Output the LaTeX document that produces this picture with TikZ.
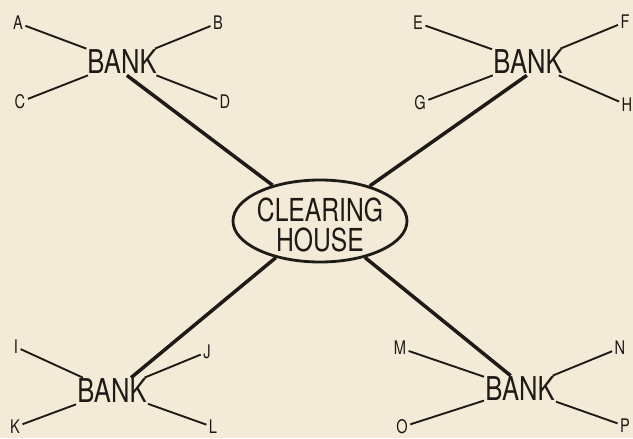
\documentclass[tikz,border=0pt]{standalone}
\usepackage{fontspec}
\newfontfamily\handfont[FakeStretch=0.78]{TeX Gyre Heros}
\usetikzlibrary{shapes.geometric}
\definecolor{paper}{HTML}{F3EBD7}
\definecolor{ink}{HTML}{1E1A16}
\begin{document}
\begin{tikzpicture}[x=0.03cm,y=-0.03cm,
  lbl/.style={font=\handfont\fontsize{16}{18}\selectfont,text=ink,inner sep=2pt},
  bank/.style={font=\handfont\fontsize{28}{30}\selectfont,text=ink,inner sep=1pt},
  house/.style={draw=ink,line width=2.4pt,ellipse,minimum width=5.22cm,minimum height=2.46cm,inner sep=0pt},
  housetext/.style={font=\handfont\fontsize{27}{26}\selectfont,text=ink,align=center,inner sep=0pt},
  thin/.style={draw=ink,line width=1.6pt},
  thick/.style={draw=ink,line width=3pt}]
\useasboundingbox[fill=paper] (0,0) rectangle (633,438);
% clearing house
\node[house] (ch) at (320,221) {};
\node[housetext] (cht) at (320,225) {CLEARING\\HOUSE};
% banks
\node[bank] (b1) at (122,62) {BANK};
\node[bank] (b2) at (528,62) {BANK};
\node[bank] (b3) at (112,391) {BANK};
\node[bank] (b4) at (520,389) {BANK};
% labels
\node[lbl] (A) at (18,23) {A};
\node[lbl] (B) at (218,23) {B};
\node[lbl] (C) at (20,102) {C};
\node[lbl] (D) at (225,102) {D};
\node[lbl] (E) at (418,23) {E};
\node[lbl] (F) at (625,22) {F};
\node[lbl] (G) at (420,103) {G};
\node[lbl] (H) at (627,105) {H};
\node[lbl] (I) at (16,347) {I};
\node[lbl] (J) at (207,352) {J};
\node[lbl] (K) at (15,427) {K};
\node[lbl] (L) at (213,427) {L};
\node[lbl] (M) at (400,348) {M};
\node[lbl] (N) at (620,348) {N};
\node[lbl] (O) at (402,427) {O};
\node[lbl] (P) at (625,426) {P};
% thin connectors
\foreach \l in {A,B,C,D} \draw[thin] (\l) -- (b1);
\foreach \l in {E,F,G,H} \draw[thin] (\l) -- (b2);
\foreach \l in {I,J,K,L} \draw[thin] (\l) -- (b3);
\foreach \l in {M,N,O,P} \draw[thin] (\l) -- (b4);
% thick connectors
\draw[thick] (b1.290) -- (ch);
\draw[thick] (b2.265) -- (ch);
\draw[thick] (b3.35) -- (ch);
\draw[thick] (b4.125) -- (ch);
\end{tikzpicture}
\end{document}
